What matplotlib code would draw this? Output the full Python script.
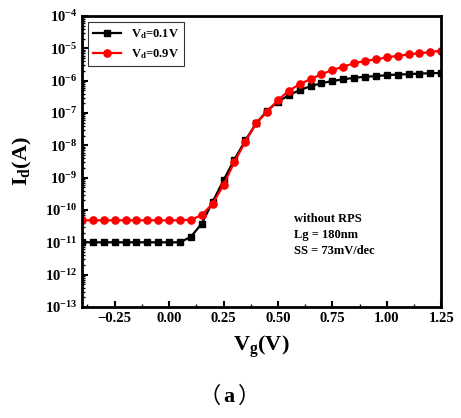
import numpy as np
import matplotlib
matplotlib.use("Agg")
import matplotlib.pyplot as plt
from matplotlib.ticker import LogLocator, MultipleLocator, FixedLocator, NullFormatter

plt.rcParams['font.family'] = ['Liberation Serif', 'Noto Sans CJK SC']
plt.rcParams['font.weight'] = 'bold'
plt.rcParams['mathtext.fontset'] = 'custom'
plt.rcParams['mathtext.rm'] = 'Liberation Serif:bold'
plt.rcParams['mathtext.it'] = 'Liberation Serif:bold'
plt.rcParams['mathtext.bf'] = 'Liberation Serif:bold'

vg = np.round(np.arange(-0.40, 1.2501, 0.05), 2)
log_id_01 = [-11.0, -11.0, -11.0, -11.0, -11.0, -11.0, -11.0, -11.0, -11.0, -11.0,
             -10.83, -10.42, -9.75, -9.08, -8.44, -7.85, -7.32, -6.93, -6.65, -6.45,
             -6.29, -6.17, -6.08, -6.01, -5.96, -5.91, -5.88, -5.86, -5.83, -5.81,
             -5.80, -5.78, -5.77, -5.76]
log_id_09 = [-10.32, -10.32, -10.32, -10.32, -10.32, -10.32, -10.32, -10.32, -10.32, -10.32,
             -10.30, -10.16, -9.80, -9.23, -8.51, -7.89, -7.32, -6.96, -6.60, -6.31,
             -6.11, -5.95, -5.80, -5.67, -5.57, -5.46, -5.39, -5.34, -5.28, -5.23,
             -5.19, -5.15, -5.12, -5.07]
id_01 = 10.0 ** np.array(log_id_01)
id_09 = 10.0 ** np.array(log_id_09)

xticks = [-0.25, 0.00, 0.25, 0.50, 0.75, 1.00, 1.25]
ytick_exps = list(range(-13, -3))

fig = plt.figure(figsize=(4.61, 4.18), dpi=100)
ax = fig.add_axes([0.178, 0.2656, 0.779, 0.6961])

ax.plot(vg, id_01, '-s', color='black', lw=1.6, ms=4.8, label=r'V$_\mathregular{d}$=0.1V')
ax.plot(vg, id_09, '-o', color='red', lw=1.6, ms=5.2, label=r'V$_\mathregular{d}$=0.9V')

ax.set_yscale('log')
ax.set_xlim(-0.40, 1.25)
ax.set_ylim(1e-13, 1e-4)
ax.yaxis.set_major_locator(FixedLocator([10.0 ** e for e in ytick_exps]))
ax.set_yticklabels([r'$\mathregular{10^{%d}}$' % e for e in ytick_exps])
ax.yaxis.set_minor_locator(LogLocator(base=10, subs=np.arange(2, 10), numticks=20))
ax.yaxis.set_minor_formatter(NullFormatter())
ax.set_xticks(xticks)
ax.set_xticklabels(['%.2f' % v if v >= 0 else '\u2212%.2f' % abs(v) for v in xticks])
ax.xaxis.set_minor_locator(MultipleLocator(0.125))

for s in ax.spines.values():
    s.set_linewidth(2)
ax.tick_params(which='major', direction='in', length=4, width=1.5, labelsize=10.5)
ax.tick_params(which='minor', direction='in', length=2, width=1)
for lab in ax.get_xticklabels() + ax.get_yticklabels():
    lab.set_fontweight('bold')

ax.set_xlabel(r'V$_\mathregular{g}$(V)', fontsize=16, fontweight='bold', labelpad=6)
ax.set_ylabel(r'I$_\mathregular{d}$(A)', fontsize=16, fontweight='bold', labelpad=8)

leg = ax.legend(loc='upper left', fontsize=9, frameon=True, fancybox=False,
                edgecolor='black', handlelength=2.2, borderaxespad=0.5,
                prop={'weight': 'bold', 'size': 9})
leg.get_frame().set_linewidth(0.8)

ax.text(0.575, 10 ** -10.08, 'without RPS\nLg = 180nm\nSS = 73mV/dec',
        fontsize=9, fontweight='bold', va='top', ha='left', linespacing=1.45)

fig.text(229 / 461, 0.05, 'a', ha='center', va='center', fontsize=16,
         fontweight='bold', family='Liberation Serif')
fig.text(221 / 461, 0.052, '\uff08', ha='right', va='center', fontsize=16,
         fontweight='normal', family='Noto Sans CJK SC')
fig.text(238 / 461, 0.052, '\uff09', ha='left', va='center', fontsize=16,
         fontweight='normal', family='Noto Sans CJK SC')

fig.savefig('out.png', dpi=100)
